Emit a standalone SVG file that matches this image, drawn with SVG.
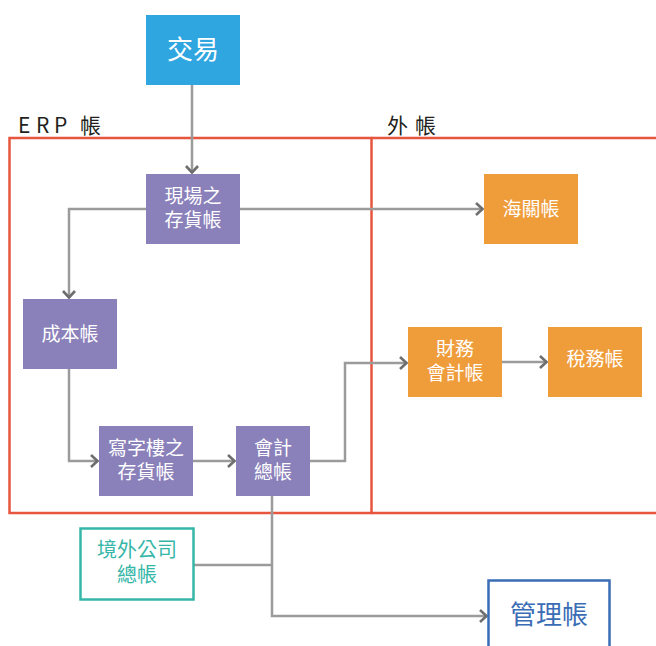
<svg xmlns="http://www.w3.org/2000/svg" width="656" height="646" viewBox="0 0 656 646">
<defs>
<marker id="arr" viewBox="0 0 10 14" refX="8.5" refY="7" markerWidth="10" markerHeight="14" markerUnits="userSpaceOnUse" orient="auto" overflow="visible">
<path d="M1.5,1 L8,7 L1.5,13" fill="none" stroke="#6E6E6E" stroke-width="2.6"/>
</marker>
<style>
text{font-family:"Noto Sans CJK TC","Noto Sans CJK SC",sans-serif;text-anchor:middle}
.p rect{fill:#8A80BA}
.o rect{fill:#EF9C3B}
.w{fill:#fff;font-size:19px}
.c{fill:none;stroke:#9B9B9B;stroke-width:2.5}
.a{marker-end:url(#arr)}
.lab{font-size:21px;fill:#231f20;text-anchor:start}
</style>
</defs>
<rect width="656" height="646" fill="#fff"/>
<g id="regions">
<rect x="9.5" y="138" width="362" height="375" fill="none" stroke="#E8553E" stroke-width="2.5"/>
<path d="M371.5 138 H660 M371.5 513 H660" fill="none" stroke="#E8553E" stroke-width="2.5"/>
<text class="lab" x="18 36 54 70 80" y="133">ERP 帳</text>
<text class="lab" x="387" y="133" letter-spacing="7">外帳</text>
</g>
<g id="connectors">
<path class="c a" d="M192 85 V173"/>
<path class="c a" d="M146 209 H69 V298"/>
<path class="c a" d="M240 209 H483"/>
<path class="c a" d="M69 369 V461 H98"/>
<path class="c a" d="M193 461 H235"/>
<path class="c a" d="M310 461 H345 V363 H407"/>
<path class="c a" d="M502 362 H547"/>
<path class="c a" d="M272 496 V616 H487"/>
<path class="c" d="M194 565 H272"/>
</g>
<g id="n-trade"><rect x="146" y="15" width="94" height="70" fill="#2FA6E0"/><text x="193" y="59" style="font-size:26px" fill="#fff">交易</text></g>
<g id="n-site" class="p"><rect x="146" y="174" width="94" height="70"/><text class="w" x="193" y="203">現場之</text><text class="w" x="193" y="227">存貨帳</text></g>
<g id="n-customs" class="o"><rect x="484" y="174" width="94" height="70"/><text class="w" x="531" y="216">海關帳</text></g>
<g id="n-cost" class="p"><rect x="23" y="299" width="94" height="70"/><text class="w" x="70" y="341">成本帳</text></g>
<g id="n-office" class="p"><rect x="99" y="426" width="94" height="70"/><text class="w" x="146" y="455">寫字樓之</text><text class="w" x="146" y="479">存貨帳</text></g>
<g id="n-gl" class="p"><rect x="236" y="426" width="74" height="70"/><text class="w" x="273" y="455">會計</text><text class="w" x="273" y="479">總帳</text></g>
<g id="n-fin" class="o"><rect x="408" y="327" width="94" height="70"/><text class="w" x="455" y="356">財務</text><text class="w" x="455" y="380">會計帳</text></g>
<g id="n-tax" class="o"><rect x="548" y="327" width="94" height="70"/><text class="w" x="595" y="366">稅務帳</text></g>
<g id="n-offshore"><rect x="80.5" y="528.5" width="113" height="71" fill="#fff" stroke="#36B6A8" stroke-width="2.5"/><text x="137" y="557" style="font-size:20px" fill="#36B6A8">境外公司</text><text x="137" y="582" style="font-size:20px" fill="#36B6A8">總帳</text></g>
<g id="n-mgmt"><rect x="488.5" y="580.5" width="121" height="80" fill="#fff" stroke="#3A6DB5" stroke-width="2.5"/><text x="549" y="624" style="font-size:26px" fill="#3A6DB5">管理帳</text></g>
</svg>
